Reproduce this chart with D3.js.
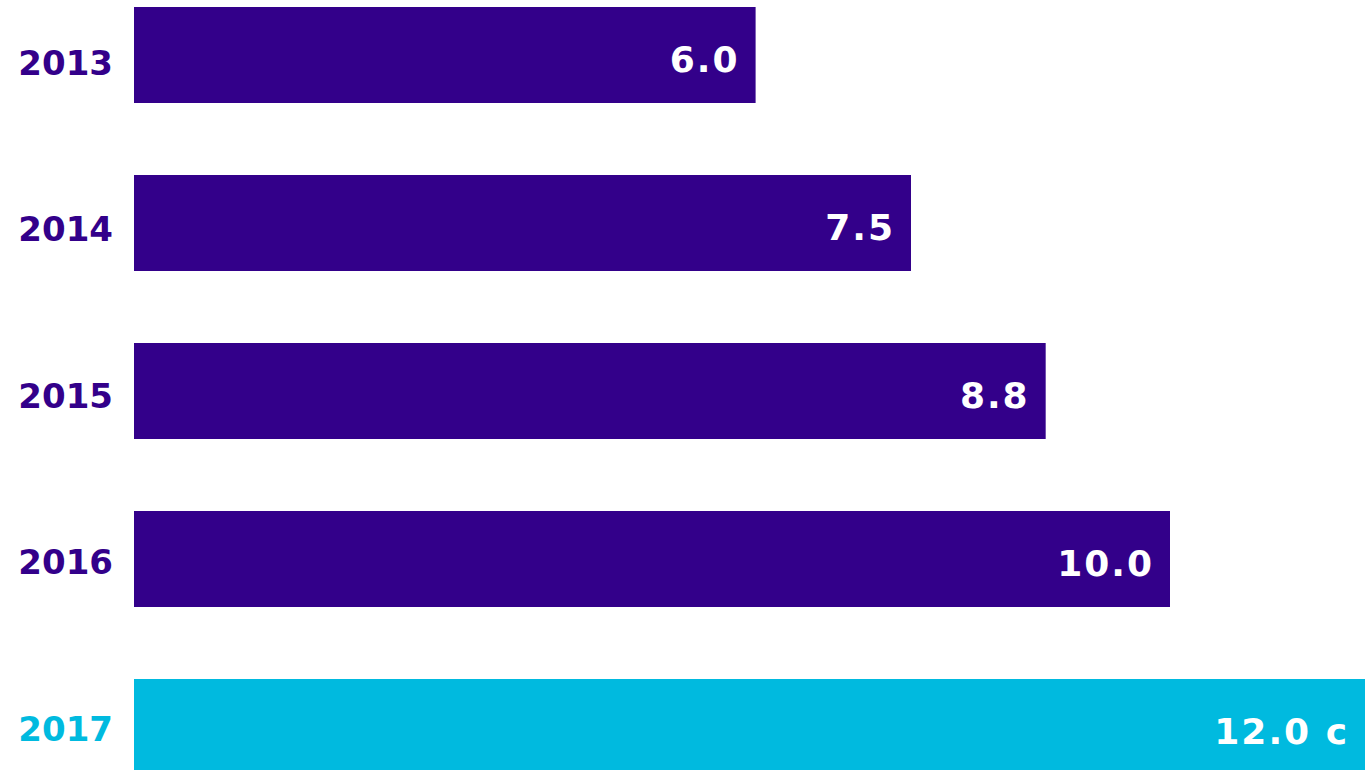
<!DOCTYPE html>
<html>
<head>
<meta charset="utf-8">
<script src="https://cdn.jsdelivr.net/npm/d3@7"></script>
<style>
  html, body { margin: 0; padding: 0; background: #ffffff; overflow: hidden; }
  svg { display: block; }
  text { font-family: "DejaVu Sans", sans-serif; font-weight: bold; }
</style>
</head>
<body>
<script>
// Dividend per share by year (cents)
const years = ["2013", "2014", "2015", "2016", "2017"];
const values = [6.0, 7.5, 8.8, 10.0, 12.0];
const valueLabels = ["6.0", "7.5", "8.8", "10.0", "12.0 c"];
const highlightYear = "2017";

const W = 1365, H = 770;
const purple = "#33008a";
const cyan = "#00badf";

const svg = d3.select("body").append("svg")
  .attr("width", W)
  .attr("height", H);

const x = d3.scaleLinear()
  .domain([0, 12])
  .range([134, 134 + 12 * 103.6]);

const y = d3.scaleBand()
  .domain(years)
  .range([7, 775])
  .paddingInner(72 / 168)
  .paddingOuter(0);

// year labels sit on their own evenly spaced positions
const yLabel = d3.scalePoint()
  .domain(years)
  .range([62.5, 728.5]);

const rows = years.map((yr, i) => ({ year: yr, value: values[i], label: valueLabels[i] }));
const colorOf = d => d.year === highlightYear ? cyan : purple;

svg.append("g")
  .selectAll("rect")
  .data(rows)
  .join("rect")
  .attr("x", x(0))
  .attr("y", d => y(d.year))
  .attr("width", d => x(d.value) - x(0))
  .attr("height", y.bandwidth())
  .attr("fill", colorOf);

svg.append("g")
  .selectAll("text")
  .data(rows)
  .join("text")
  .attr("x", 113)
  .attr("y", d => yLabel(d.year) + 12.4)
  .attr("text-anchor", "end")
  .attr("font-size", 34)
  .attr("fill", colorOf)
  .text(d => d.year);

svg.append("g")
  .selectAll("text")
  .data(rows)
  .join("text")
  .attr("x", d => Math.min(x(d.value), W) - 16)
  .attr("y", d => y(d.year) + y.bandwidth() / 2 + 17)
  .attr("text-anchor", "end")
  .attr("font-size", 36)
  .attr("letter-spacing", 2)
  .attr("fill", "#ffffff")
  .text(d => d.label);
</script>
</body>
</html>
